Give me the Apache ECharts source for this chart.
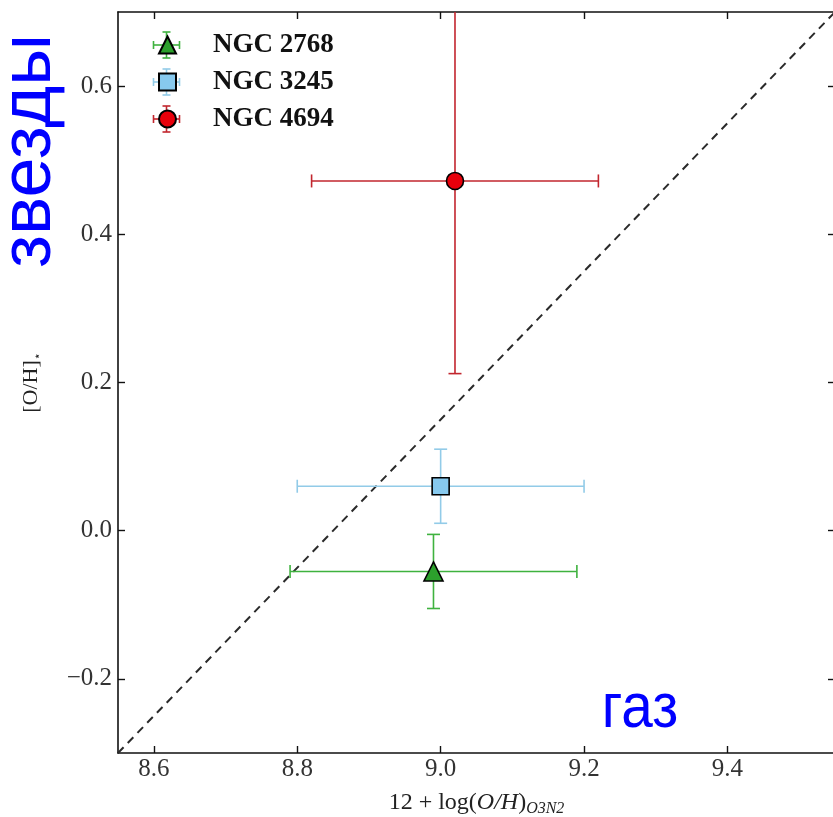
<!DOCTYPE html>
<html>
<head>
<meta charset="utf-8">
<script src="https://cdn.jsdelivr.net/npm/echarts@6/dist/echarts.min.js"></script>
<style>
  html, body { margin: 0; padding: 0; background: #fff; }
  #chart { width: 833px; height: 817px; }
</style>
</head>
<body>
<div id="chart"></div>
<script>
// galaxies, gas-phase vs stellar metallicity
const galaxies = ['NGC 2768', 'NGC 3245', 'NGC 4694'];
const gasOH = [8.99, 9.00, 9.02];
const gasErr = [0.20, 0.20, 0.20];
const starOH = [-0.055, 0.06, 0.472];
const starErr = [0.05, 0.05, 0.26];

const xRange = [8.55, 9.55];
const yRange = [-0.3, 0.7];
const xTicks = [8.6, 8.8, 9.0, 9.2, 9.4];
const yTicks = [-0.2, 0.0, 0.2, 0.4, 0.6];
// one-to-one line y = x - 8.85
const oneToOne = [[8.55, -0.3], [9.55, 0.7]];

const symbols = ['triangle', 'rect', 'circle'];
const fills = ['#2ca02c', '#87c9ee', '#e8000b'];
const barColors = ['#3fb23f', '#92cbe8', '#c2262e'];

const serif = '"Liberation Serif", "DejaVu Serif", serif';

const chart = echarts.init(document.getElementById('chart'));

function fmt(v) {
    const s = Math.abs(v).toFixed(1);
    return v < 0 ? '\u2212' + s : s;
}

function errRender(color) {
    return function (params, api) {
        const x = api.value(0), y = api.value(1);
        const xe = api.value(2), ye = api.value(3);
        const l = api.coord([x - xe, y]);
        const r = api.coord([x + xe, y]);
        const t = api.coord([x, y + ye]);
        const b = api.coord([x, y - ye]);
        const cap = 6.5;
        const st = { stroke: color, lineWidth: 1.6 };
        const seg = (x1, y1, x2, y2) => ({
            type: 'line', shape: { x1: x1, y1: y1, x2: x2, y2: y2 }, style: st
        });
        return {
            type: 'group',
            children: [
                seg(l[0], l[1], r[0], r[1]),
                seg(t[0], t[1], b[0], b[1]),
                seg(l[0], l[1] - cap, l[0], l[1] + cap),
                seg(r[0], r[1] - cap, r[0], r[1] + cap),
                seg(t[0] - cap, t[1], t[0] + cap, t[1]),
                seg(b[0] - cap, b[1], b[0] + cap, b[1])
            ]
        };
    };
}

const series = [{
    type: 'line',
    data: oneToOne,
    symbol: 'none',
    silent: true,
    lineStyle: { color: '#2a2a2a', width: 2, type: [8, 6] },
    z: 1
}];

galaxies.forEach((name, i) => {
    series.push({
        type: 'custom',
        name: name + ' err',
        clip: true,
        renderItem: errRender(barColors[i]),
        data: [[gasOH[i], starOH[i], gasErr[i], starErr[i]]],
        z: 2
    });
});
galaxies.forEach((name, i) => {
    series.push({
        type: 'scatter',
        name: name,
        symbol: symbols[i],
        symbolSize: i === 0 ? 19 : 17,
        data: [[gasOH[i], starOH[i]]],
        itemStyle: { color: fills[i], borderColor: '#000', borderWidth: 1.6, opacity: 1 },
        z: 3
    });
});

// little error crosses behind the legend icons
const legLeft = 158, legFirst = 45, legRow = 37, legIcon = 17, legFont = 27;
const legGraphics = [];
galaxies.forEach((name, i) => {
    const cx = legLeft + legIcon / 2, cy = legFirst + i * legRow;
    const st = { stroke: barColors[i], lineWidth: 1.6 };
    legGraphics.push(
        { type: 'line', shape: { x1: cx - 13, y1: cy, x2: cx + 13, y2: cy }, style: st },
        { type: 'line', shape: { x1: cx, y1: cy - 13, x2: cx, y2: cy + 13 }, style: st },
        { type: 'line', shape: { x1: cx - 13, y1: cy - 4, x2: cx - 13, y2: cy + 4 }, style: st },
        { type: 'line', shape: { x1: cx + 13, y1: cy - 4, x2: cx + 13, y2: cy + 4 }, style: st },
        { type: 'line', shape: { x1: cx - 4, y1: cy - 13, x2: cx + 4, y2: cy - 13 }, style: st },
        { type: 'line', shape: { x1: cx - 4, y1: cy + 13, x2: cx + 4, y2: cy + 13 }, style: st }
    );
});

const axisLine = { show: true, onZero: false, lineStyle: { color: '#111', width: 1.6 } };
const tickStyle = { inside: true, length: 7, lineStyle: { color: '#111', width: 1.4 } };

const option = {
    animation: false,
    backgroundColor: '#fff',
    grid: { left: 118, top: 12, width: 717, height: 741, outerBoundsMode: 'none', containLabel: false },
    legend: {
        orient: 'vertical',
        left: legLeft,
        top: legFirst - legFont / 2,
        padding: 0,
        itemWidth: legIcon,
        itemHeight: legIcon,
        itemGap: legRow - legFont,
        data: galaxies,
        textStyle: {
            fontFamily: serif, fontWeight: 'bold', fontSize: legFont, color: '#111',
            padding: [0, 0, 0, 32]
        }
    },
    xAxis: [{
        type: 'value', min: xRange[0], max: xRange[1],
        axisLine: axisLine,
        axisTick: Object.assign({ customValues: xTicks }, tickStyle),
        axisLabel: {
            customValues: xTicks, formatter: fmt, margin: 4,
            fontFamily: serif, fontSize: 25, color: '#333'
        },
        splitLine: { show: false },
        name: '{n|12 + log(}{i|O/H}{n|)}{s|O3N2}',
        nameLocation: 'middle',
        nameGap: 31,
        nameTextStyle: {
            rich: {
                n: { fontFamily: serif, fontSize: 24, color: '#222', verticalAlign: 'top', lineHeight: 26 },
                i: { fontFamily: serif, fontSize: 24, fontStyle: 'italic', color: '#222', verticalAlign: 'top', lineHeight: 26 },
                s: { fontFamily: serif, fontSize: 16, fontStyle: 'italic', color: '#222', verticalAlign: 'bottom', lineHeight: 16, padding: [14, 0, 0, 0] }
            }
        }
    }, {
        type: 'value', position: 'top', min: xRange[0], max: xRange[1],
        axisLine: axisLine,
        axisTick: Object.assign({ customValues: xTicks }, tickStyle),
        axisLabel: { show: false },
        splitLine: { show: false }
    }],
    yAxis: [{
        type: 'value', min: yRange[0], max: yRange[1],
        axisLine: axisLine,
        axisTick: Object.assign({ customValues: yTicks }, tickStyle),
        axisLabel: {
            customValues: yTicks, formatter: fmt, margin: 6,
            fontFamily: serif, fontSize: 25, color: '#333'
        },
        splitLine: { show: false },
        name: '{a|[O/H]}{s|\u22c6}',
        nameLocation: 'middle',
        nameGap: 74,
        nameTextStyle: {
            rich: {
                a: { fontFamily: serif, fontSize: 22, color: '#222', verticalAlign: 'top', lineHeight: 24 },
                s: { fontFamily: serif, fontSize: 12, color: '#222', verticalAlign: 'bottom', lineHeight: 12, padding: [12, 0, 0, 0] }
            }
        }
    }, {
        type: 'value', position: 'right', min: yRange[0], max: yRange[1],
        axisLine: axisLine,
        axisTick: Object.assign({ customValues: yTicks }, tickStyle),
        axisLabel: { show: false },
        splitLine: { show: false }
    }],
    graphic: legGraphics.concat([
        {
            type: 'text', x: 30, y: 151, rotation: Math.PI / 2, z: 10,
            style: {
                text: 'звезды', fill: '#0000ff',
                font: '72px "Liberation Sans", Arial, sans-serif',
                align: 'center', verticalAlign: 'middle'
            }
        },
        {
            type: 'text', x: 640, y: 710, z: 10, scaleX: 0.9,
            style: {
                text: 'газ', fill: '#0000ff',
                font: '63px "Liberation Sans", Arial, sans-serif',
                align: 'center', verticalAlign: 'middle'
            }
        }
    ]),
    series: series
};

chart.setOption(option);
</script>
</body>
</html>
